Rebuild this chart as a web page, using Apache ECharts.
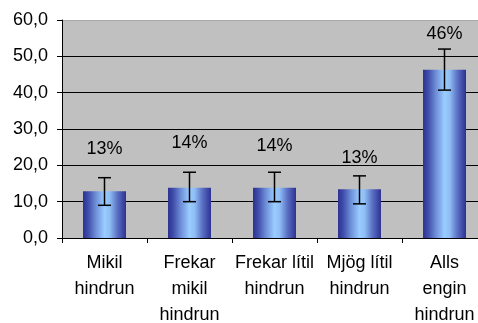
<!DOCTYPE html>
<html>
<head>
<meta charset="utf-8">
<script src="https://cdn.jsdelivr.net/npm/echarts@6/dist/echarts.min.js"></script>
<style>
  html, body { margin: 0; padding: 0; background: #fff; }
  #chart { width: 478px; height: 323px; }
</style>
</head>
<body>
<div id="chart"></div>
<script>
// Svör um hindranir: meðaltal (%) og öryggisbil
const categories = ['Mikil\nhindrun', 'Frekar\nmikil\nhindrun', 'Frekar lítil\nhindrun', 'Mjög lítil\nhindrun', 'Alls\nengin\nhindrun'];
const values = [12.9, 13.8, 13.8, 13.4, 46.3];
const errLow = [9.0, 10.0, 10.0, 9.4, 40.7];
const errHigh = [16.6, 18.1, 18.1, 17.1, 52.0];
const yTicks = [0, 10, 20, 30, 40, 50, 60];

// gap between bar top and its percentage label
const labelGap = [33, 36, 33, 22, 27];

const FONT = "'Liberation Sans', Arial, sans-serif";

const barGradient = new echarts.graphic.LinearGradient(0, 0, 1, 0, [
  { offset: 0, color: '#2E3192' },
  { offset: 0.12, color: '#3F4DAA' },
  { offset: 0.3, color: '#6F8FD8' },
  { offset: 0.5, color: '#99CCFF' },
  { offset: 0.62, color: '#8FBEF5' },
  { offset: 0.8, color: '#5A70C4' },
  { offset: 1, color: '#2E3192' }
]);

const chart = echarts.init(document.getElementById('chart'), null, { renderer: 'canvas' });

chart.setOption({
  animation: false,
  backgroundColor: '#ffffff',
  grid: {
    left: 62, top: 20, width: 425, bottom: 85,
    containLabel: false, outerBoundsMode: 'none',
    show: true, backgroundColor: '#C0C0C0', borderWidth: 0
  },
  xAxis: {
    type: 'category',
    data: categories,
    axisLine: { show: true, lineStyle: { color: '#000', width: 1 } },
    axisTick: { show: true, length: 5, lineStyle: { color: '#000' } },
    axisLabel: {
      interval: 0, margin: 12, color: '#000',
      fontFamily: FONT, fontSize: 18, lineHeight: 26
    }
  },
  yAxis: {
    type: 'value',
    min: yTicks[0], max: yTicks[yTicks.length - 1], interval: 10,
    axisLine: { show: true, lineStyle: { color: '#000', width: 1 } },
    axisTick: { show: true, length: 5, lineStyle: { color: '#000' } },
    axisLabel: {
      margin: 14, color: '#000', fontFamily: FONT, fontSize: 18,
      formatter: v => v.toFixed(1).replace('.', ',')
    },
    splitLine: {
      show: true,
      lineStyle: { color: ['#000', '#000', '#000', '#000', '#000', '#000', '#A8A8A8'], width: 1 }
    }
  },
  series: [
    {
      type: 'bar',
      barWidth: 43,
      data: values.map((v, i) => ({
        value: v,
        label: { distance: labelGap[i] }
      })),
      itemStyle: { color: barGradient },
      label: {
        show: true, position: 'top', color: '#000',
        fontFamily: FONT, fontSize: 18,
        formatter: p => Math.round(p.value) + '%'
      },
      z: 2
    },
    {
      type: 'custom',
      z: 3,
      data: values.map((v, i) => [i, errLow[i], errHigh[i]]),
      renderItem: (params, api) => {
        const i = api.value(0);
        const lo = api.coord([i, api.value(1)]);
        const hi = api.coord([i, api.value(2)]);
        const half = 6.5;
        const style = { stroke: '#000', lineWidth: 1.5, fill: null };
        return {
          type: 'group',
          children: [
            { type: 'line', shape: { x1: hi[0], y1: hi[1], x2: lo[0], y2: lo[1] }, style },
            { type: 'line', shape: { x1: hi[0] - half, y1: hi[1], x2: hi[0] + half, y2: hi[1] }, style },
            { type: 'line', shape: { x1: lo[0] - half, y1: lo[1], x2: lo[0] + half, y2: lo[1] }, style }
          ]
        };
      }
    }
  ]
});
</script>
</body>
</html>
